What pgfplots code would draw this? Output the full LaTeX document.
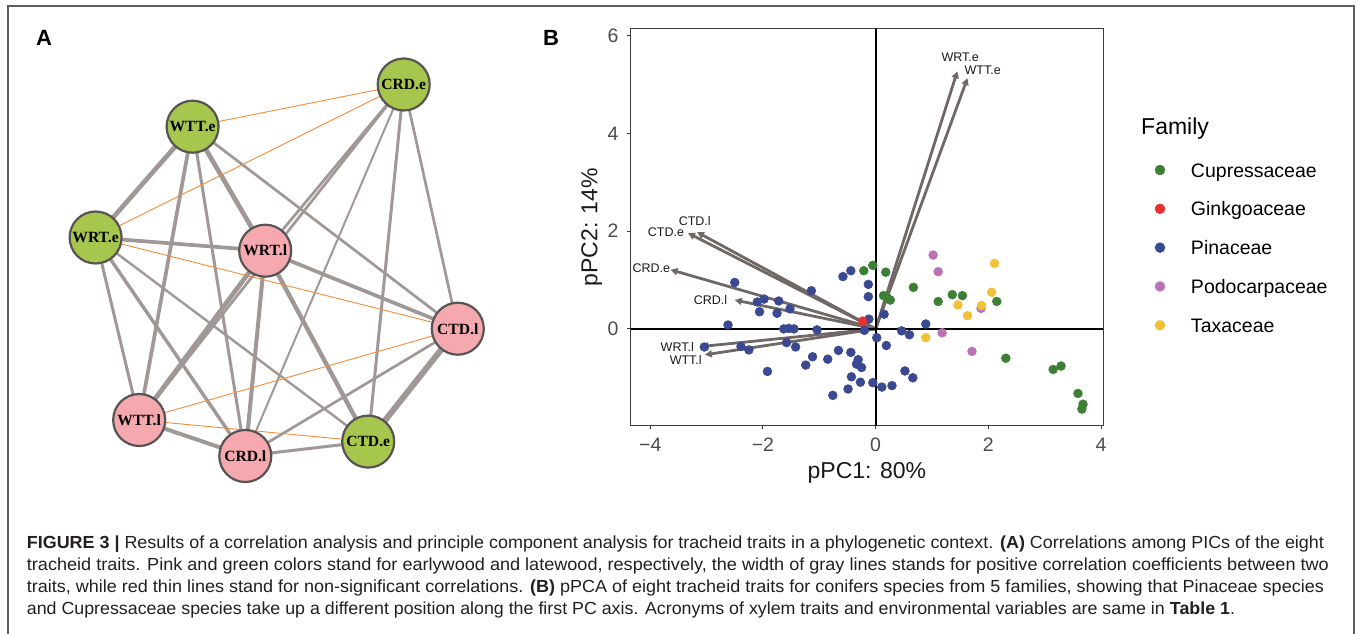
\documentclass[border=0pt]{standalone}
\usepackage{fontspec}
\setmainfont{Liberation Sans}
\newfontfamily\netfont{Liberation Serif}
\usepackage{graphicx}
\usepackage{pgfplots}
\usepackage{pgfplotstable}
\pgfplotsset{compat=1.18}
\usetikzlibrary{arrows.meta}

\definecolor{nodegreen}{RGB}{166,198,78}
\definecolor{nodepink}{RGB}{245,168,174}
\definecolor{nodeborder}{RGB}{88,84,84}
\definecolor{edgegray}{RGB}{160,152,150}
\definecolor{edgeorange}{RGB}{242,140,60}
\definecolor{arrowgray}{RGB}{112,104,102}
\definecolor{cupgreen}{RGB}{61,128,53}
\definecolor{ginred}{RGB}{232,49,47}
\definecolor{pinblue}{RGB}{59,73,146}
\definecolor{podpink}{RGB}{185,115,180}
\definecolor{taxyellow}{RGB}{242,193,55}
\definecolor{framegray}{RGB}{95,95,95}
\definecolor{axisgray}{RGB}{60,60,60}
\definecolor{captext}{RGB}{35,31,32}

\newcommand\fs[1]{\fontsize{#1}{#1}\selectfont}

% pPCA scores, one table per family
\pgfplotstableread{
x y
-0.21 1.19
-0.05 1.30
0.18 1.16
0.14 0.68
0.21 0.63
0.26 0.59
0.67 0.85
1.11 0.56
1.36 0.70
1.54 0.68
2.15 0.56
2.31 -0.60
3.15 -0.83
3.29 -0.76
3.59 -1.32
3.68 -1.54
3.66 -1.64
}\cupdata

\pgfplotstableread{
x y
-0.23 0.16
}\gindata

\pgfplotstableread{
x y
-2.50 0.95
-2.10 0.55
-1.98 0.61
-2.06 0.35
-1.72 0.57
-1.75 0.32
-1.52 0.41
-1.14 0.78
-2.62 0.08
-1.63 0.00
-1.54 0.01
-1.45 0.00
-1.04 -0.02
-3.04 -0.37
-2.39 -0.36
-2.25 -0.43
-1.58 -0.28
-1.42 -0.37
-1.92 -0.87
-1.12 -0.57
-1.24 -0.74
-0.85 -0.62
-0.66 -0.44
-0.44 -0.48
-0.31 -0.63
-0.34 -0.72
-0.25 -0.79
-0.43 -0.98
-0.27 -1.09
-0.49 -1.23
-0.76 -1.36
-0.05 -1.10
0.11 -1.19
0.29 -1.16
0.52 -0.86
0.66 -1.00
-0.58 1.07
-0.44 1.19
-0.13 0.91
-0.13 0.66
-0.12 0.20
-0.20 -0.03
0.02 -0.18
0.19 -0.34
0.15 0.30
0.46 -0.04
0.60 -0.12
0.89 0.10
}\pindata

\pgfplotstableread{
x y
1.02 1.51
1.11 1.17
1.87 0.42
1.18 -0.08
1.71 -0.46
}\poddata

\pgfplotstableread{
x y
2.11 1.34
2.06 0.75
1.46 0.49
1.88 0.48
1.63 0.27
0.89 -0.18
}\taxdata

\begin{document}
\begin{tikzpicture}
\useasboundingbox (0,0) rectangle (1360pt,633pt);

\begin{scope}[x=1pt,y=-1pt,yshift=633pt]
% outer frame
\draw[framegray, line width=1.3pt] (8,640) -- (8,6) -- (1354,6) -- (1354,640);

% panel letters
\node[anchor=base west, inner sep=0pt, font=\bfseries\fs{22}] at (36,45.6) {A};
\node[anchor=base west, inner sep=0pt, font=\bfseries\fs{22}] at (543,45.6) {B};

% ---- panel A: correlation network
\coordinate (CRDe) at (403.7,84.5);
\coordinate (WTTe) at (192.6,126.7);
\coordinate (WRTe) at (95.6,237.5);
\coordinate (WRTl) at (265.2,250.7);
\coordinate (CTDl) at (457.8,328.7);
\coordinate (WTTl) at (139.2,420);
\coordinate (CRDl) at (245.3,456);
\coordinate (CTDe) at (368.2,441.6);

\foreach \a/\b/\w in {
  WTTe/WRTe/4.7, WTTe/WTTl/3.7, WTTe/CRDl/3.0, WTTe/WRTl/4.7, WTTe/CTDl/2.7,
  CRDe/WRTl/2.7, CRDe/WTTl/2.7, CRDe/CRDl/2.0, CRDe/CTDe/3.0, CRDe/CTDl/2.7,
  WRTe/WRTl/3.7, WRTe/WTTl/3.0, WRTe/CRDl/3.4, WRTe/CTDe/2.4,
  WRTl/CTDl/3.7, WRTl/CRDl/4.0, WRTl/CTDe/4.4, WRTl/WTTl/4.7,
  CTDl/CTDe/6.0, CTDl/CRDl/2.7, WTTl/CRDl/4.0, CRDl/CTDe/3.0}
  \draw[edgegray, line width=\w pt] (\a) -- (\b);

\foreach \a/\b in {WTTe/CRDe, WRTe/CRDe, WRTe/CTDl, WTTl/CTDl, WTTl/CTDe}
  \draw[edgeorange, line width=0.9pt] (\a) -- (\b);

\foreach \c/\t/\f in {
  CRDe/CRD.e/nodegreen, WTTe/WTT.e/nodegreen, WRTe/WRT.e/nodegreen,
  CTDe/CTD.e/nodegreen, WRTl/WRT.l/nodepink, CTDl/CTD.l/nodepink,
  WTTl/WTT.l/nodepink, CRDl/CRD.l/nodepink}
  \node[circle, fill=\f, draw=nodeborder, line width=2.2pt, minimum size=52pt,
        inner sep=0pt, font=\netfont\bfseries\fs{15.6}] at (\c) {\t};

% legend title
\node[anchor=base west, inner sep=0pt, font=\fs{23}] at (1141,134.8) {Family};

% caption
\begin{scope}[every node/.style={anchor=base west, inner sep=0pt, text=captext}]
\node at (26.7,548) {\resizebox{1297pt}{\height}{\fs{17.5}\textbf{FIGURE 3 |} Results of a correlation analysis and principle component analysis for tracheid traits in a phylogenetic context. \textbf{(A)} Correlations among PICs of the eight}};
\node at (26.7,570) {\resizebox{1302pt}{\height}{\fs{17.5}tracheid traits. Pink and green colors stand for earlywood and latewood, respectively, the width of gray lines stands for positive correlation coefficients between two}};
\node at (26.7,592) {\resizebox{1297pt}{\height}{\fs{17.5}traits, while red thin lines stand for non-significant correlations. \textbf{(B)} pPCA of eight tracheid traits for conifers species from 5 families, showing that Pinaceae species}};
\node at (26.7,614) {\resizebox{1208pt}{\height}{\fs{17.5}and Cupressaceae species take up a different position along the first PC axis. Acronyms of xylem traits and environmental variables are same in \textbf{Table 1}.}};
\end{scope}
\end{scope}

% ---- panel B: pPCA biplot
\begin{axis}[
  at={(630.5pt,207.3pt)}, anchor=south west,
  scale only axis, width=472.8pt, height=397pt,
  xmin=-4.35, xmax=4.04, ymin=-1.98, ymax=6.14,
  xtick={-4,-2,0,2,4}, xticklabels={−4,−2,0,2,4},
  ytick={0,2,4,6}, yticklabels={0,2,4,6},
  tick align=outside, major tick length=3.5pt, tick pos=left,
  axis line style={axisgray, line width=1.1pt},
  tick style={axisgray, line width=1.1pt},
  ticklabel style={font=\fs{19.5}, text=black!70},
  xticklabel style={yshift=-5pt},
  yticklabel style={xshift=-5pt},
  xlabel={pPC1: 80\%}, ylabel={pPC2: 14\%},
  label style={font=\fs{23}, text=black!90},
  xlabel style={at={(axis description cs:0.5,-0.118)}, anchor=center},
  ylabel style={at={(axis description cs:-0.082,0.5)}, anchor=center},
  clip=false,
  legend cell align=left,
  legend style={at={(axis description cs:1.1089,0.6667)}, anchor=north west,
    draw=none, fill=none, inner sep=0pt, outer sep=0pt, font=\fs{19.5},
    row sep=20.8pt,
    nodes={inner sep=0pt, text height=16pt, text depth=2pt},
    /tikz/every odd column/.append style={column sep=25.8pt}},
]
% loading arrows
\addplot[arrowgray, line width=2.8pt, -{Triangle[length=7pt,width=7pt]}, forget plot] coordinates {(0,0) (1.45,5.27)};
\addplot[arrowgray, line width=2.8pt, -{Triangle[length=7pt,width=7pt]}, forget plot] coordinates {(0,0) (1.63,5.13)};
\addplot[arrowgray, line width=2.8pt, -{Triangle[length=7pt,width=7pt]}, forget plot] coordinates {(0,0) (-3.33,1.96)};
\addplot[arrowgray, line width=2.8pt, -{Triangle[length=7pt,width=7pt]}, forget plot] coordinates {(0,0) (-3.17,1.98)};
\addplot[arrowgray, line width=2.8pt, -{Triangle[length=7pt,width=7pt]}, forget plot] coordinates {(0,0) (-3.64,1.21)};
\addplot[arrowgray, line width=2.8pt, -{Triangle[length=7pt,width=7pt]}, forget plot] coordinates {(0,0) (-2.50,0.59)};
\addplot[arrowgray, line width=2.8pt, -{Triangle[length=7pt,width=7pt]}, forget plot] coordinates {(0,0) (-3.09,-0.36)};
\addplot[arrowgray, line width=2.8pt, -{Triangle[length=7pt,width=7pt]}, forget plot] coordinates {(0,0) (-3.03,-0.53)};

\begin{scope}[every node/.style={font=\fs{12.5}, inner sep=0pt, text=black!90}]
\node at (axis cs:1.50,5.55) {WRT.e};
\node at (axis cs:1.90,5.28) {WTT.e};
\node at (axis cs:-3.21,2.20) {CTD.l};
\node at (axis cs:-3.72,1.97) {CTD.e};
\node at (axis cs:-3.98,1.24) {CRD.e};
\node at (axis cs:-2.93,0.59) {CRD.l};
\node at (axis cs:-3.52,-0.36) {WRT.l};
\node at (axis cs:-3.37,-0.63) {WTT.l};
\end{scope}

% species scores
\addplot[only marks, mark=*, mark size=4.4pt, color=cupgreen, line width=0.6pt, forget plot] table {\cupdata};
\addplot[only marks, mark=*, mark size=4.4pt, color=pinblue, line width=0.6pt, forget plot] table {\pindata};
\addplot[only marks, mark=*, mark size=4.4pt, color=podpink, line width=0.6pt, forget plot] table {\poddata};
\addplot[only marks, mark=*, mark size=4.4pt, color=taxyellow, line width=0.6pt, forget plot] table {\taxdata};
\addplot[only marks, mark=*, mark size=4.4pt, color=ginred, line width=0.6pt, forget plot] table {\gindata};

% zero lines
\draw[black, line width=1.9pt] (axis cs:-4.35,0) -- (axis cs:4.04,0);
\draw[black, line width=1.9pt] (axis cs:0,-1.98) -- (axis cs:0,6.14);

% legend
\addlegendimage{legend image code/.code={\fill[cupgreen] (0pt,0pt) circle[radius=5pt];}}
\addlegendentry{Cupressaceae}
\addlegendimage{legend image code/.code={\fill[ginred] (0pt,0pt) circle[radius=5pt];}}
\addlegendentry{Ginkgoaceae}
\addlegendimage{legend image code/.code={\fill[pinblue] (0pt,0pt) circle[radius=5pt];}}
\addlegendentry{Pinaceae}
\addlegendimage{legend image code/.code={\fill[podpink] (0pt,0pt) circle[radius=5pt];}}
\addlegendentry{Podocarpaceae}
\addlegendimage{legend image code/.code={\fill[taxyellow] (0pt,0pt) circle[radius=5pt];}}
\addlegendentry{Taxaceae}
\end{axis}
\end{tikzpicture}
\end{document}
